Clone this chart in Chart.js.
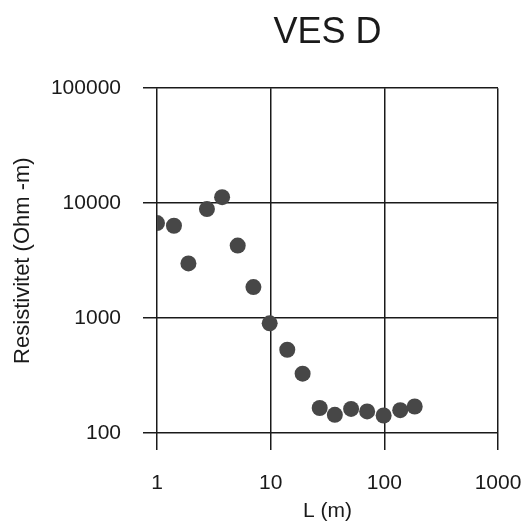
<!DOCTYPE html>
<html>
<head>
<meta charset="utf-8">
<script src="https://cdn.jsdelivr.net/npm/chart.js@4"></script>
<style>
html, body { margin: 0; padding: 0; background: #fff; }
</style>
</head>
<body>
<canvas id="chart" width="525" height="524"></canvas>
<script>
// electrode spacing L (m) and apparent resistivity (Ohm-m)
const spacing = [1, 1.41, 1.89, 2.75, 3.74, 5.13, 7.05, 9.8, 14, 19.1, 27, 36.7, 51, 70.6, 98.6, 138, 185];
const resistivity = [6700, 6360, 2990, 8870, 11270, 4270, 1860, 900, 530, 328, 165, 144, 162, 154, 142, 158, 170];
const xTicks = [1, 10, 100, 1000];
const yTicks = [100, 1000, 10000, 100000];
const titleText = "VES D";
const xTitle = "L (m)";
const yTitle = "Resistivitet (Ohm -m)";

const fontFamily = "'Liberation Sans', Arial, Helvetica, sans-serif";
const ink = "#1a1a1a";

const points = spacing.map((x, i) => ({ x: x, y: resistivity[i] }));

const context = document.getElementById("chart").getContext("2d");
const chart = new Chart(context, {
	type: "scatter",
	data: {
		datasets: [
			{
				data: points,
				backgroundColor: "#474747",
				borderColor: "#474747",
				borderWidth: 0,
				pointRadius: 8,
				pointHoverRadius: 8
			}
		]
	},
	options: {
		responsive: false,
		animation: false,
		devicePixelRatio: 1,
		layout: {
			padding: { left: 0, right: 27, top: 0, bottom: 0 }
		},
		plugins: {
			legend: { display: false },
			tooltip: { enabled: false },
			title: {
				display: true,
				fullSize: false,
				text: titleText,
				color: ink,
				font: { family: fontFamily, size: 36, weight: "normal" },
				padding: { top: 11, bottom: 34 }
			}
		},
		scales: {
			x: {
				type: "logarithmic",
				min: 1,
				max: 1000,
				afterBuildTicks: axis => {
					axis.ticks = xTicks.map(v => ({ value: v }));
				},
				afterFit: axis => {
					axis.height = 91;
					axis.paddingLeft = 0;
					axis.paddingRight = 0;
				},
				ticks: {
					color: ink,
					font: { family: fontFamily, size: 21 },
					padding: 21,
					maxRotation: 0,
					autoSkip: false,
					callback: value => String(value)
				},
				grid: {
					color: ink,
					lineWidth: 1.5,
					tickLength: 17
				},
				border: { display: false },
				title: {
					display: true,
					text: xTitle,
					color: ink,
					font: { family: fontFamily, size: 21 },
					padding: { top: 0, bottom: 0 }
				}
			},
			y: {
				type: "logarithmic",
				min: 100,
				max: 100000,
				afterBuildTicks: axis => {
					axis.ticks = yTicks.map(v => ({ value: v }));
				},
				afterFit: axis => {
					axis.width = 157;
					axis.paddingTop = 0;
					axis.paddingBottom = 0;
				},
				ticks: {
					color: ink,
					font: { family: fontFamily, size: 21 },
					padding: 22,
					autoSkip: false,
					callback: value => String(value)
				},
				grid: {
					color: ink,
					lineWidth: 1.5,
					tickLength: 14
				},
				border: { display: false },
				title: {
					display: true,
					text: yTitle,
					color: ink,
					font: { family: fontFamily, size: 22 },
					padding: { top: 10, bottom: 0 }
				}
			}
		}
	}
});
</script>
</body>
</html>
